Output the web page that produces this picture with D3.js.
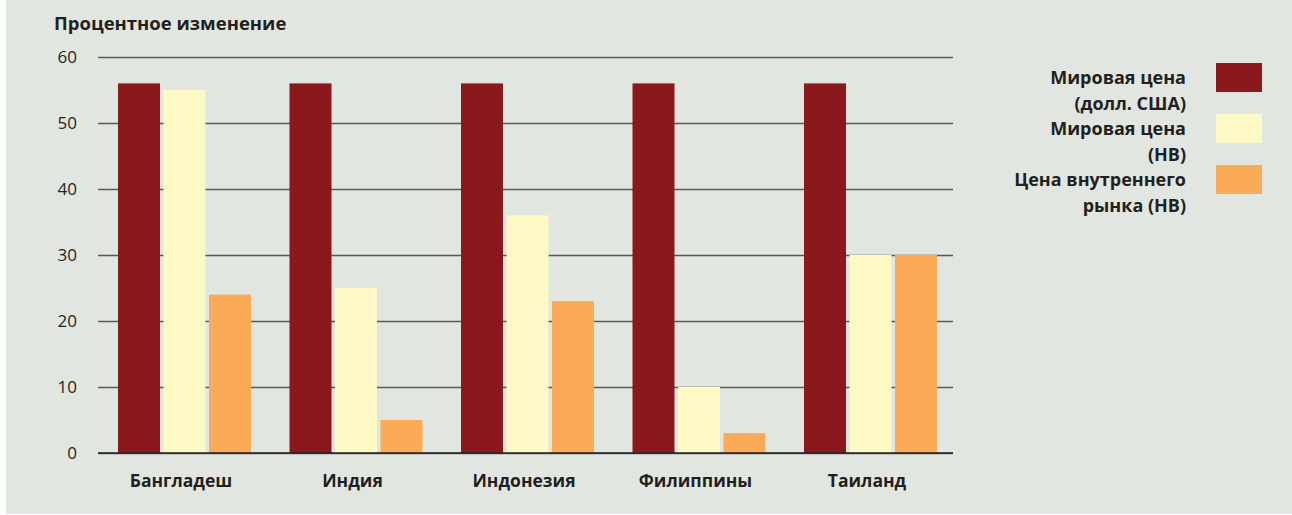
<!DOCTYPE html>
<html>
<head>
<meta charset="utf-8">
<script src="https://cdn.jsdelivr.net/npm/d3@7"></script>
<style>
  body { margin: 0; background: #fff; }
  svg text { font-family: "Open Sans", "Noto Sans", sans-serif; fill: #231f20; }
  .axis .domain { display: none; }
  .axis text { font-size: 17px; font-family: "Open Sans", sans-serif; }
  .x-label { font-size: 17.5px; font-weight: bold; }
  .titleLine text { font-size: 18.5px; font-weight: bold; }
  .legend text { font-size: 18px; font-weight: bold; }
</style>
</head>
<body>
<div id="chart"></div>
<script>
var countries = ["Бангладеш", "Индия", "Индонезия", "Филиппины", "Таиланд"]
var seriesNames = [["Мировая цена", "(долл. США)"], ["Мировая цена", "(НВ)"], ["Цена внутреннего", "рынка (НВ)"]]
var worldUsd = [56, 56, 56, 56, 56]
var worldLocal = [55, 25, 36, 10, 30]
var domestic = [24, 5, 23, 3, 30]
var yTicks = [0, 10, 20, 30, 40, 50, 60]
var colors = ["#8a191d", "#fef8c4", "#fbab58"]

var widthSvg = 1292
var heightSvg = 515
var margin = { top: 57, left: 98, right: 339, bottom: 62 }
var widthScale = widthSvg - margin.left - margin.right
var heightScale = heightSvg - margin.top - margin.bottom

var mainSvg = d3.select("#chart").append("svg")
  .attr("width", widthSvg)
  .attr("height", heightSvg)

mainSvg.append("rect")
  .attr("x", 6).attr("y", 0)
  .attr("width", widthSvg - 6).attr("height", heightSvg - 1)
  .attr("fill", "#e2e6e1")

var mainG = mainSvg.append("g")
  .attr("transform", "translate(" + margin.left + "," + margin.top + ")")

var series = [worldUsd, worldLocal, domestic]

var xPositionScale = d3.scaleBand()
  .domain(countries)
  .range([0, widthScale + 2.5])

var innerScale = d3.scaleBand()
  .domain([0, 1, 2])
  .range([20, 153])
  .paddingInner(0.077)

var yPositionScale = d3.scaleLinear()
  .domain([0, 60])
  .range([heightScale, 0])

// gridlines + y labels
var yAxis = d3.axisLeft(yPositionScale)
  .tickValues(yTicks)
  .tickSize(-widthScale)
  .tickPadding(20)

var yG = mainG.append("g")
  .attr("class", "axis y-axis")
  .call(yAxis)

yG.selectAll(".tick line")
  .attr("stroke", "#58595b")
  .attr("stroke-width", 1.5)
yG.selectAll(".tick text")
  .attr("x", -21)

// bars
var groups = mainG.selectAll(".group")
  .data(countries)
  .enter().append("g")
  .attr("class", "group")
  .attr("transform", function(d) {
    return "translate(" + xPositionScale(d) + ",0)"
  })

groups.selectAll("rect")
  .data(function(d, i) {
    return series.map(function(s, j) { return { s: j, v: s[i] } })
  })
  .enter().append("rect")
  .attr("x", function(d) { return innerScale(d.s) })
  .attr("width", innerScale.bandwidth())
  .attr("y", function(d) { return yPositionScale(d.v) })
  .attr("height", function(d) { return heightScale - yPositionScale(d.v) })
  .attr("fill", function(d) { return colors[d.s] })

// baseline on top
mainG.append("line")
  .attr("x1", 0).attr("x2", widthScale)
  .attr("y1", heightScale).attr("y2", heightScale)
  .attr("stroke", "#231f20")
  .attr("stroke-width", 1.5)

// x labels
mainG.selectAll(".x-label")
  .data(countries)
  .enter().append("text")
  .attr("class", "x-label")
  .attr("x", function(d) { return xPositionScale(d) + 83 })
  .attr("y", heightScale + 34)
  .attr("text-anchor", "middle")
  .text(function(d) { return d })

// title
mainSvg.append("g")
  .attr("class", "titleLine")
  .append("text")
  .attr("x", 54)
  .attr("y", 30)
  .text("Процентное изменение")

// legend
var legend = mainSvg.append("g")
  .attr("class", "legend")

var legendItems = legend.selectAll(".item")
  .data(seriesNames)
  .enter().append("g")
  .attr("class", "item")
  .attr("transform", function(d, i) { return "translate(0," + (i * 51) + ")" })

legendItems.append("rect")
  .attr("x", 1216).attr("y", 63)
  .attr("width", 46).attr("height", 29)
  .attr("fill", function(d, i) { return colors[i] })

legendItems.selectAll("text")
  .data(function(d) { return d })
  .enter().append("text")
  .attr("x", 1186)
  .attr("y", function(d, i) { return 84 + i * 25.5 })
  .attr("text-anchor", "end")
  .text(function(d) { return d })
</script>
</body>
</html>
